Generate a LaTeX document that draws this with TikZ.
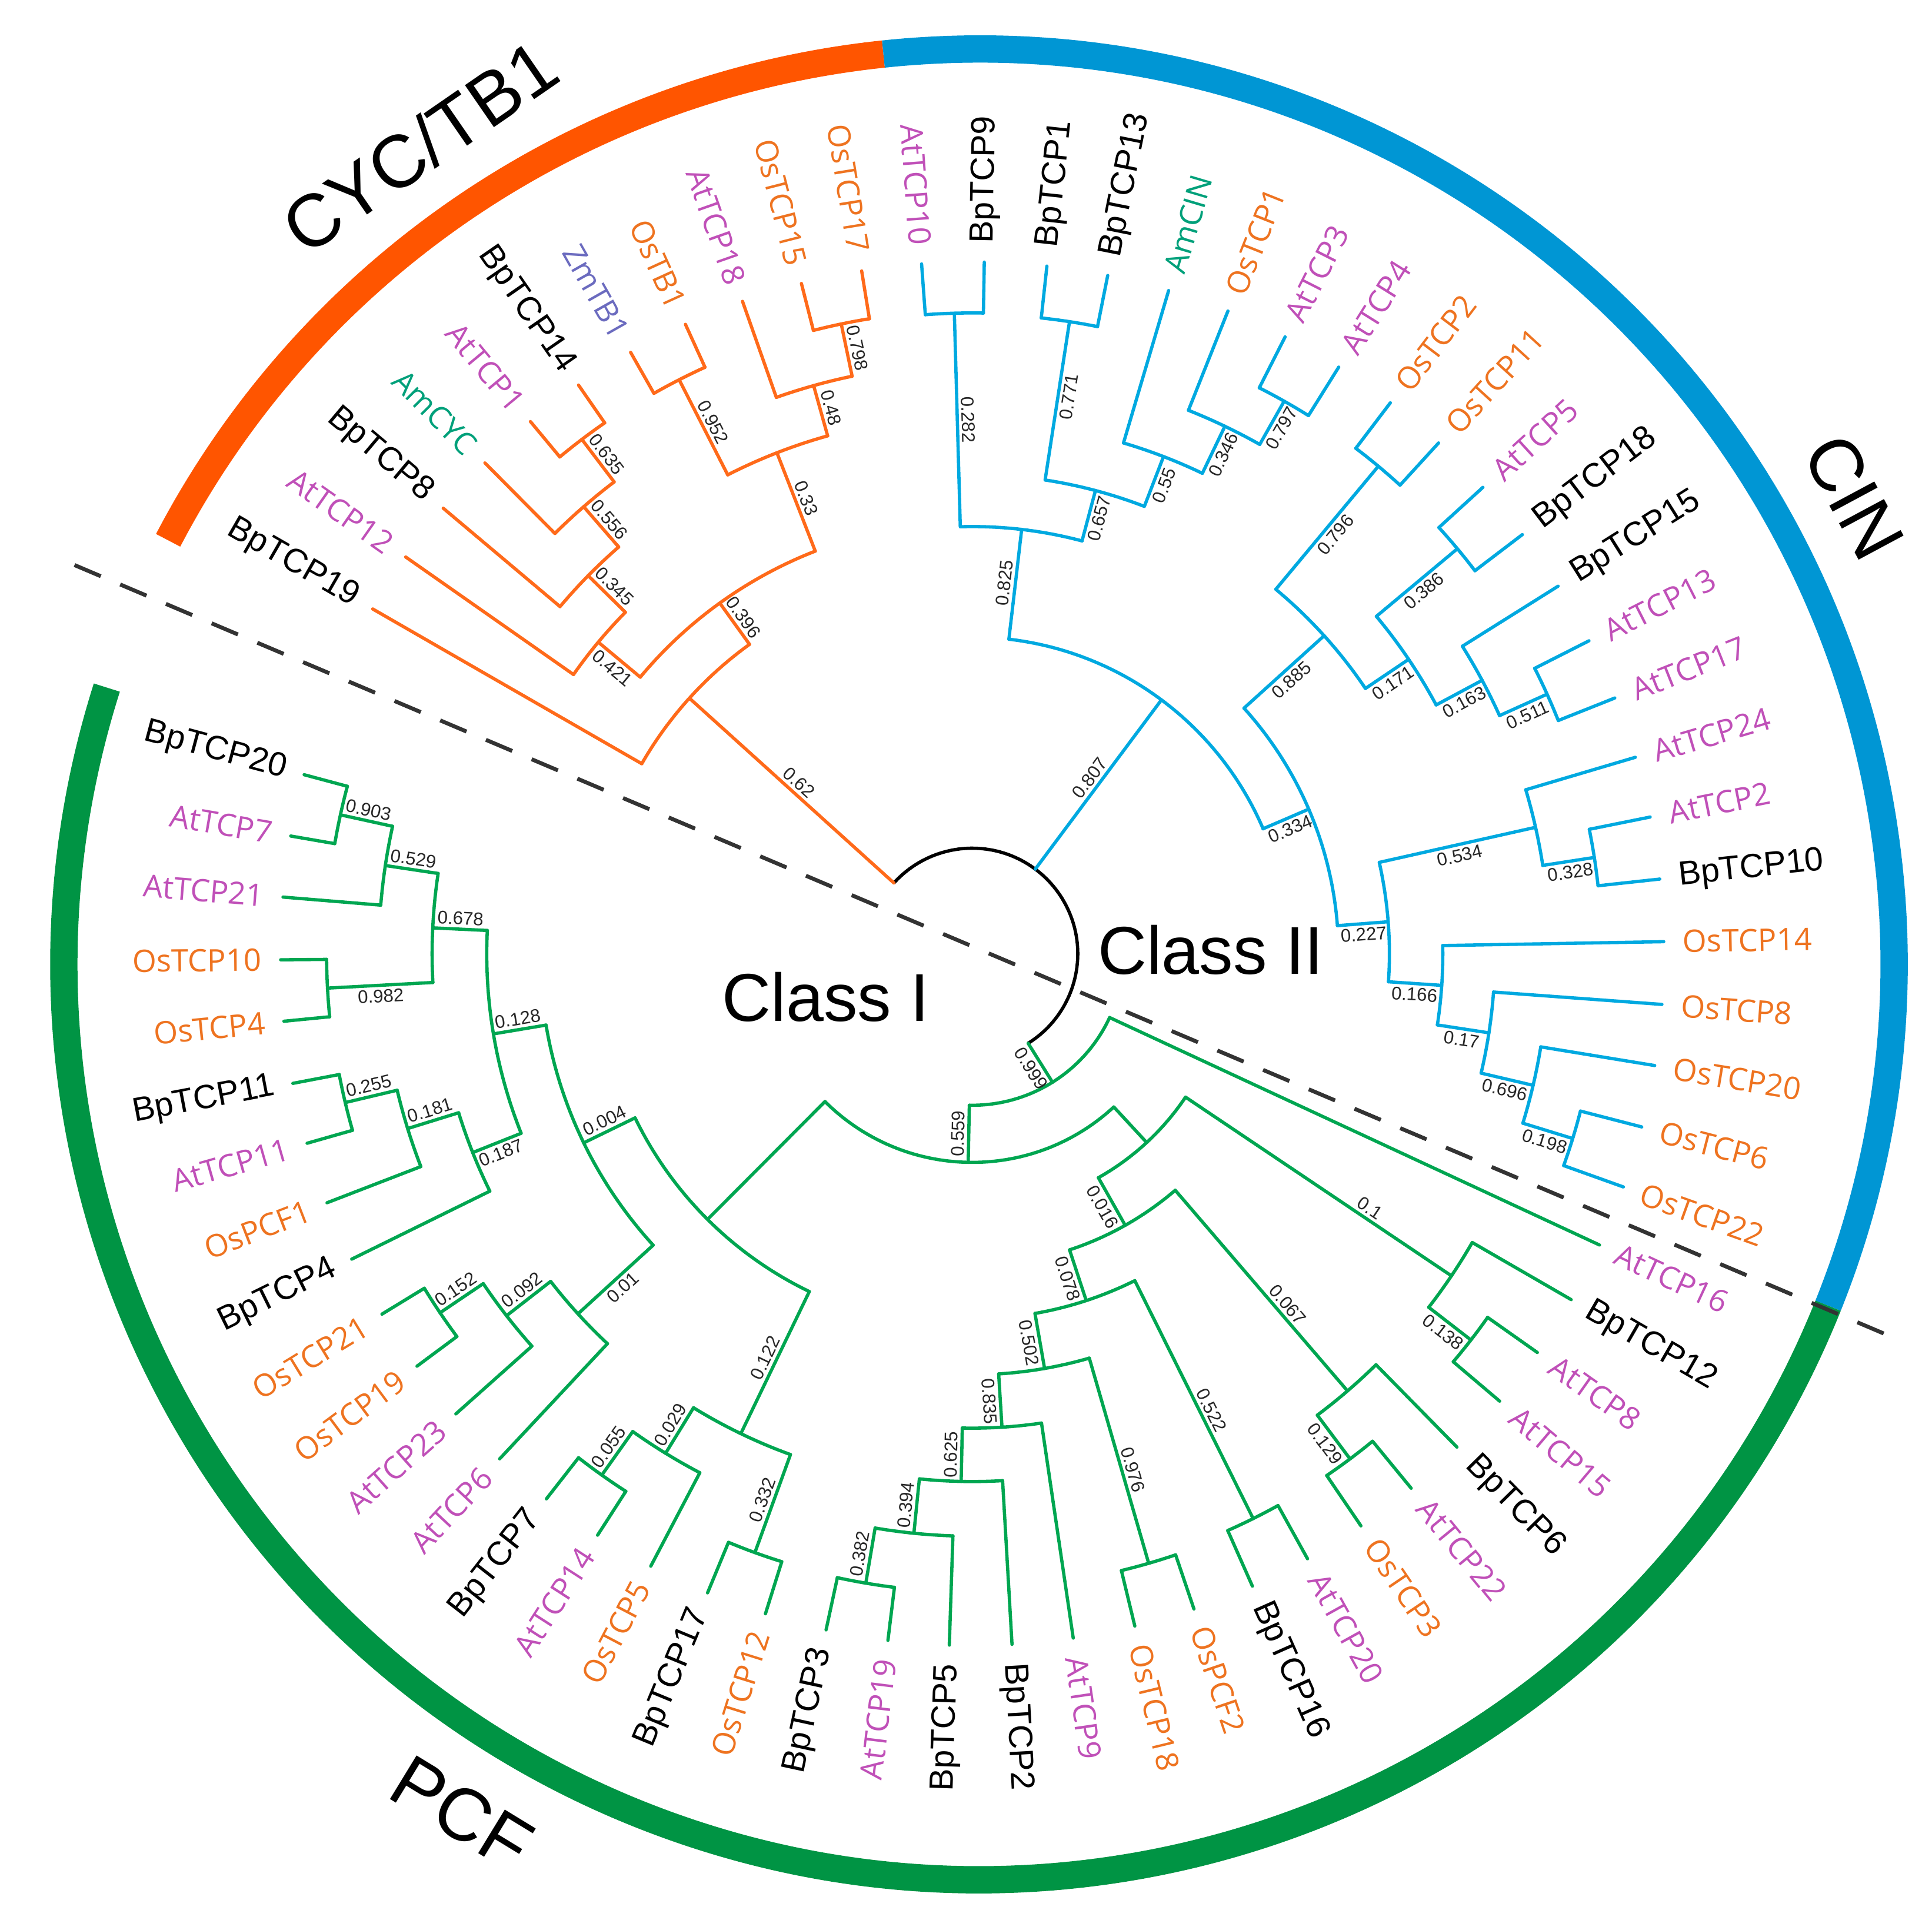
\documentclass[tikz,border=0pt]{standalone}
\usepackage{fontspec}
\setmainfont{Liberation Sans}
\newfontfamily\osf{Open Sans}
\definecolor{lor}{HTML}{FF6A1A}
\definecolor{lbl}{HTML}{00A9E0}
\definecolor{lgr}{HTML}{00A651}
\definecolor{tor}{HTML}{EE7320}
\definecolor{tmg}{HTML}{C050B8}
\definecolor{tgr}{HTML}{00A07A}
\definecolor{tzm}{HTML}{6B6BBF}
\definecolor{rOr}{HTML}{FF5500}
\definecolor{rBl}{HTML}{0096D4}
\definecolor{rGr}{HTML}{009444}
\tikzset{
  Lor/.style={lor,line width=0.75pt,line cap=round},
  Lbl/.style={lbl,line width=0.75pt,line cap=round},
  Lgr/.style={lgr,line width=0.75pt,line cap=round},
  rt/.style={black,line width=0.75pt},
  Kbk/.style={font=\fontsize{7.7}{8}\selectfont,text=black,inner sep=0.5pt},
  Kos/.style={font=\osf\fontsize{7.1}{8}\selectfont,text=tor,inner sep=0.5pt},
  Kat/.style={font=\osf\fontsize{7.1}{8}\selectfont,text=tmg,inner sep=0.5pt},
  Kam/.style={font=\osf\fontsize{7.1}{8}\selectfont,text=tgr,inner sep=0.5pt},
  Kzm/.style={font=\osf\fontsize{7.1}{8}\selectfont,text=tzm,inner sep=0.5pt},
  bsv/.style={font=\fontsize{4.2}{5}\selectfont,text=black!85,inner sep=0.8pt},
  ring/.style={line width=0.22cm},
  big/.style={font=\fontsize{17}{20}\selectfont},
  cls/.style={font=\fontsize{15.5}{18}\selectfont}
}
\newcommand\TIn[6]{%
  \draw[#1] (#3:#2) arc[start angle=#3, end angle=#4, radius=#2];
  \draw[#1] (#5:#6) -- (#5:#2);}
\newcommand\TLeaf[6]{%
  \draw[#1] (#2:#3) -- (#2:5.57);
  \pgfmathsetmacro\lfang{mod(#2+540,360)-180}%
  \pgfmathtruncatemacro\lfleft{(\lfang>90 || \lfang<-90) ? 1 : 0}%
  \ifnum\lfleft=1
    \node[#5,rotate=\lfang+180,anchor=east] (#4) at (\lfang:5.70) {#6};
  \else
    \node[#5,rotate=\lfang,anchor=west] (#4) at (\lfang:5.70) {#6};
  \fi}
\newcommand\TBs[5]{%
  \pgfmathsetmacro\bsang{mod(#2+540,360)-180}%
  \pgfmathtruncatemacro\bsleft{(\bsang>90 || \bsang<-90) ? 1 : 0}%
  \pgfmathtruncatemacro\bsnorth{((1-2*\bsleft)*(#5))>0 ? 1 : 0}%
  \pgfmathsetmacro\bsrot{\bsleft==1 ? \bsang+180 : \bsang}%
  \ifnum\bsnorth=1
    \node[bsv,rotate=\bsrot,anchor=north] (#1) at (\bsang:#3) {#4};
  \else
    \node[bsv,rotate=\bsrot,anchor=south] (#1) at (\bsang:#3) {#4};
  \fi}
\begin{document}
\begin{tikzpicture}
\useasboundingbox (0,0) rectangle (15.56,-15.541);
% outer ring
\begin{scope}[shift={(7.885,-7.765)}]
\draw[ring,rOr] (152.4:7.37) arc[start angle=152.4,end angle=96,radius=7.37];
\draw[ring,rBl] (96:7.37) arc[start angle=96,end angle=-21.9,radius=7.37];
\draw[ring,rGr] (-21.9:7.37) arc[start angle=-21.9,end angle=-197.6,radius=7.37];
\end{scope}
\node[big,rotate=34.6] (cyc) at (3.38,-1.18) {CYC/TB1};
\node[big,rotate=-61.8] (cin) at (14.93,-4.00) {CIN};
\node[big,rotate=-31.4] (pcf) at (3.72,-14.60) {PCF};
% dashed separator
\coordinate (d1) at (0.60,-4.55);
\coordinate (d2) at (15.20,-10.75);
\draw[black!80,line width=0.9pt,dash pattern=on 0.23cm off 0.17cm] (d1) -- (d2);
\node[cls] (c1) at (6.65,-8.03) {Class I};
\node[cls] (c2) at (9.75,-7.65) {Class II};
\begin{scope}[shift={(7.83,-7.68)}]
% root
\draw[rt] (-58:0.85) arc[start angle=-58,end angle=137.9,radius=0.85];
% ---- CYC/TB1
\TIn{Lor}{3.07}{150.1}{125.75}{137.9}{0.85}
\TIn{Lor}{3.48}{140.2}{111.3}{125.75}{3.07}
\TIn{Lor}{3.92}{145.0}{135.45}{140.2}{3.48}
\TIn{Lor}{4.34}{139.9}{131.0}{135.45}{3.92}
\TIn{Lor}{4.77}{134.8}{127.2}{131.0}{4.34}
\TIn{Lor}{5.20}{129.7}{124.7}{127.2}{4.77}
\TIn{Lor}{4.33}{117.05}{105.6}{111.3}{3.48}
\TIn{Lor}{5.19}{119.6}{114.5}{117.05}{4.33}
\TIn{Lor}{4.75}{109.4}{101.75}{105.6}{4.33}
\TIn{Lor}{5.18}{104.3}{99.2}{101.75}{4.75}
\TLeaf{Lor}{150.1}{3.07}{BpTCP19}{Kbk}{BpTCP19}
\TLeaf{Lor}{145.0}{3.92}{AtTCP12}{Kat}{AtTCP12}
\TLeaf{Lor}{139.9}{4.34}{BpTCP8}{Kbk}{BpTCP8}
\TLeaf{Lor}{134.8}{4.77}{AmCYC}{Kam}{AmCYC}
\TLeaf{Lor}{129.7}{5.20}{AtTCP1}{Kat}{AtTCP1}
\TLeaf{Lor}{124.7}{5.20}{BpTCP14}{Kbk}{BpTCP14}
\TLeaf{Lor}{119.6}{5.19}{ZmTB1}{Kzm}{ZmTB1}
\TLeaf{Lor}{114.5}{5.19}{OsTB1}{Kos}{OsTB1}
\TLeaf{Lor}{109.4}{4.75}{AtTCP18}{Kat}{AtTCP18}
\TLeaf{Lor}{104.3}{5.18}{OsTCP15}{Kos}{OsTCP15}
\TLeaf{Lor}{99.2}{5.18}{OsTCP17}{Kos}{OsTCP17}
% ---- CIN
\TIn{Lbl}{2.55}{83.35}{23.25}{53.3}{0.85}
\TIn{Lbl}{3.44}{91.6}{75.1}{83.35}{2.55}
\TIn{Lbl}{5.16}{94.2}{89.0}{91.6}{3.44}
\TIn{Lbl}{3.86}{81.25}{68.95}{75.1}{3.44}
\TIn{Lbl}{5.15}{83.8}{78.7}{81.25}{3.86}
\TIn{Lbl}{4.29}{73.5}{64.4}{68.95}{3.86}
\TIn{Lbl}{4.71}{68.3}{60.55}{64.4}{4.29}
\TIn{Lbl}{5.11}{63.1}{58.0}{60.55}{4.71}
\TIn{Lbl}{2.95}{42.1}{4.4}{23.25}{2.55}
\TIn{Lbl}{3.82}{50.2}{34.0}{42.1}{2.95}
\TIn{Lbl}{5.11}{52.8}{47.6}{50.2}{3.82}
\TIn{Lbl}{4.24}{39.85}{28.2}{34.0}{3.82}
\TIn{Lbl}{5.09}{42.4}{37.3}{39.85}{4.24}
\TIn{Lbl}{4.66}{32.1}{24.3}{28.2}{4.24}
\TIn{Lbl}{5.08}{26.9}{21.7}{24.3}{4.66}
\TIn{Lbl}{3.36}{12.65}{-3.85}{4.4}{2.95}
\TIn{Lbl}{4.65}{16.5}{8.8}{12.65}{3.36}
\TIn{Lbl}{5.07}{11.4}{6.2}{8.8}{4.65}
\TIn{Lbl}{3.79}{1.0}{-8.7}{-3.85}{3.36}
\TIn{Lbl}{4.21}{-4.2}{-13.2}{-8.7}{3.79}
\TIn{Lbl}{4.64}{-9.3}{-17.1}{-13.2}{4.21}
\TIn{Lbl}{5.06}{-14.5}{-19.7}{-17.1}{4.64}
\TLeaf{Lbl}{94.2}{5.16}{AtTCP10}{Kat}{AtTCP10}
\TLeaf{Lbl}{89.0}{5.16}{BpTCP9}{Kbk}{BpTCP9}
\TLeaf{Lbl}{83.8}{5.15}{BpTCP1}{Kbk}{BpTCP1}
\TLeaf{Lbl}{78.7}{5.15}{BpTCP13}{Kbk}{BpTCP13}
\TLeaf{Lbl}{73.5}{4.29}{AmCIN}{Kam}{AmCIN}
\TLeaf{Lbl}{68.3}{4.71}{OsTCP1}{Kos}{OsTCP1}
\TLeaf{Lbl}{63.1}{5.11}{AtTCP3}{Kat}{AtTCP3}
\TLeaf{Lbl}{58.0}{5.11}{AtTCP4}{Kat}{AtTCP4}
\TLeaf{Lbl}{52.8}{5.11}{OsTCP2}{Kos}{OsTCP2}
\TLeaf{Lbl}{47.6}{5.11}{OsTCP11}{Kos}{OsTCP11}
\TLeaf{Lbl}{42.4}{5.09}{AtTCP5}{Kat}{AtTCP5}
\TLeaf{Lbl}{37.3}{5.09}{BpTCP18}{Kbk}{BpTCP18}
\TLeaf{Lbl}{32.1}{4.66}{BpTCP15}{Kbk}{BpTCP15}
\TLeaf{Lbl}{26.9}{5.08}{AtTCP13}{Kat}{AtTCP13}
\TLeaf{Lbl}{21.7}{5.08}{AtTCP17}{Kat}{AtTCP17}
\TLeaf{Lbl}{16.5}{4.65}{AtTCP24}{Kat}{AtTCP24}
\TLeaf{Lbl}{11.4}{5.07}{AtTCP2}{Kat}{AtTCP2}
\TLeaf{Lbl}{6.2}{5.07}{BpTCP10}{Kbk}{BpTCP10}
\TLeaf{Lbl}{1.0}{3.79}{OsTCP14}{Kos}{OsTCP14}
\TLeaf{Lbl}{-4.2}{4.21}{OsTCP8}{Kos}{OsTCP8}
\TLeaf{Lbl}{-9.3}{4.64}{OsTCP20}{Kos}{OsTCP20}
\TLeaf{Lbl}{-14.5}{5.06}{OsTCP6}{Kos}{OsTCP6}
\TLeaf{Lbl}{-19.7}{5.06}{OsTCP22}{Kos}{OsTCP22}
% ---- PCF
\TIn{Lgr}{1.22}{-24.9}{-91.1}{-58.0}{0.85}
\TIn{Lgr}{1.68}{-47.25}{-134.9}{-91.1}{1.22}
\TIn{Lgr}{2.07}{-33.9}{-60.6}{-47.25}{1.68}
\TIn{Lgr}{4.65}{-30.0}{-37.75}{-33.9}{2.07}
\TIn{Lgr}{5.08}{-35.2}{-40.3}{-37.75}{4.65}
\TIn{Lgr}{2.51}{-49.35}{-71.8}{-60.6}{2.07}
\TIn{Lgr}{4.64}{-45.5}{-53.2}{-49.35}{2.51}
\TIn{Lgr}{5.08}{-50.6}{-55.8}{-53.2}{4.64}
\TIn{Lgr}{2.94}{-63.55}{-80.1}{-71.8}{2.51}
\TIn{Lgr}{5.08}{-61.0}{-66.1}{-63.55}{2.94}
\TIn{Lgr}{3.39}{-73.85}{-86.4}{-80.1}{2.94}
\TIn{Lgr}{5.11}{-71.3}{-76.4}{-73.85}{3.39}
\TIn{Lgr}{3.82}{-81.6}{-91.2}{-86.4}{3.39}
\TIn{Lgr}{4.25}{-86.7}{-95.75}{-91.2}{3.82}
\TIn{Lgr}{4.69}{-91.9}{-99.6}{-95.75}{4.25}
\TIn{Lgr}{5.14}{-97.0}{-102.2}{-99.6}{4.69}
\TIn{Lgr}{3.02}{-115.75}{-154.05}{-134.9}{1.68}
\TIn{Lgr}{4.29}{-109.95}{-121.55}{-115.75}{3.02}
\TIn{Lgr}{5.13}{-107.4}{-112.5}{-109.95}{4.29}
\TIn{Lgr}{4.72}{-117.7}{-125.4}{-121.55}{4.29}
\TIn{Lgr}{5.15}{-122.8}{-128.0}{-125.4}{4.72}
\TIn{Lgr}{3.48}{-137.6}{-170.5}{-154.05}{3.02}
\TIn{Lgr}{4.30}{-133.1}{-142.15}{-137.6}{3.48}
\TIn{Lgr}{4.75}{-138.3}{-146.0}{-142.15}{4.30}
\TIn{Lgr}{5.17}{-143.4}{-148.6}{-146.0}{4.75}
\TIn{Lgr}{3.91}{-158.3}{-182.75}{-170.5}{3.48}
\TIn{Lgr}{4.33}{-153.8}{-162.8}{-158.3}{3.91}
\TIn{Lgr}{4.76}{-158.9}{-166.65}{-162.8}{4.33}
\TIn{Lgr}{5.19}{-164.1}{-169.2}{-166.65}{4.76}
\TIn{Lgr}{4.35}{-176.95}{-188.55}{-182.75}{3.91}
\TIn{Lgr}{5.20}{-174.4}{-179.5}{-176.95}{4.35}
\TIn{Lgr}{4.78}{-184.7}{-192.4}{-188.55}{4.35}
\TIn{Lgr}{5.21}{-189.8}{-195.0}{-192.4}{4.78}
\TLeaf{Lgr}{-24.9}{1.22}{AtTCP16}{Kat}{AtTCP16}
\TLeaf{Lgr}{-30.0}{4.65}{BpTCP12}{Kbk}{BpTCP12}
\TLeaf{Lgr}{-35.2}{5.08}{AtTCP8}{Kat}{AtTCP8}
\TLeaf{Lgr}{-40.3}{5.08}{AtTCP15}{Kat}{AtTCP15}
\TLeaf{Lgr}{-45.5}{4.64}{BpTCP6}{Kbk}{BpTCP6}
\TLeaf{Lgr}{-50.6}{5.08}{AtTCP22}{Kat}{AtTCP22}
\TLeaf{Lgr}{-55.8}{5.08}{OsTCP3}{Kos}{OsTCP3}
\TLeaf{Lgr}{-61.0}{5.08}{AtTCP20}{Kat}{AtTCP20}
\TLeaf{Lgr}{-66.1}{5.08}{BpTCP16}{Kbk}{BpTCP16}
\TLeaf{Lgr}{-71.3}{5.11}{OsPCF2}{Kos}{OsPCF2}
\TLeaf{Lgr}{-76.4}{5.11}{OsTCP18}{Kos}{OsTCP18}
\TLeaf{Lgr}{-81.6}{3.82}{AtTCP9}{Kat}{AtTCP9}
\TLeaf{Lgr}{-86.7}{4.25}{BpTCP2}{Kbk}{BpTCP2}
\TLeaf{Lgr}{-91.9}{4.69}{BpTCP5}{Kbk}{BpTCP5}
\TLeaf{Lgr}{-97.0}{5.14}{AtTCP19}{Kat}{AtTCP19}
\TLeaf{Lgr}{-102.2}{5.14}{BpTCP3}{Kbk}{BpTCP3}
\TLeaf{Lgr}{-107.4}{5.13}{OsTCP12}{Kos}{OsTCP12}
\TLeaf{Lgr}{-112.5}{5.13}{BpTCP17}{Kbk}{BpTCP17}
\TLeaf{Lgr}{-117.7}{4.72}{OsTCP5}{Kos}{OsTCP5}
\TLeaf{Lgr}{-122.8}{5.15}{AtTCP14}{Kat}{AtTCP14}
\TLeaf{Lgr}{-128.0}{5.15}{BpTCP7}{Kbk}{BpTCP7}
\TLeaf{Lgr}{-133.1}{4.30}{AtTCP6}{Kat}{AtTCP6}
\TLeaf{Lgr}{-138.3}{4.75}{AtTCP23}{Kat}{AtTCP23}
\TLeaf{Lgr}{-143.4}{5.17}{OsTCP19}{Kos}{OsTCP19}
\TLeaf{Lgr}{-148.6}{5.17}{OsTCP21}{Kos}{OsTCP21}
\TLeaf{Lgr}{-153.8}{4.33}{BpTCP4}{Kbk}{BpTCP4}
\TLeaf{Lgr}{-158.9}{4.76}{OsPCF1}{Kos}{OsPCF1}
\TLeaf{Lgr}{-164.1}{5.19}{AtTCP11}{Kat}{AtTCP11}
\TLeaf{Lgr}{-169.2}{5.19}{BpTCP11}{Kbk}{BpTCP11}
\TLeaf{Lgr}{-174.4}{5.20}{OsTCP4}{Kos}{OsTCP4}
\TLeaf{Lgr}{-179.5}{5.20}{OsTCP10}{Kos}{OsTCP10}
\TLeaf{Lgr}{-184.7}{4.78}{AtTCP21}{Kat}{AtTCP21}
\TLeaf{Lgr}{-189.8}{5.21}{AtTCP7}{Kat}{AtTCP7}
\TLeaf{Lgr}{-195.0}{5.21}{BpTCP20}{Kbk}{BpTCP20}
% ---- support values
\TBs{o1}{137.9}{1.96}{0.62}{1}
\TBs{o2}{125.75}{3.275}{0.396}{1}
\TBs{o3}{140.2}{3.70}{0.421}{-1}
\TBs{o4}{135.45}{4.13}{0.345}{1}
\TBs{o5}{131.0}{4.555}{0.556}{1}
\TBs{o6}{127.2}{4.985}{0.635}{1}
\TBs{o7}{111.3}{3.905}{0.33}{1}
\TBs{o8}{117.05}{4.76}{0.952}{1}
\TBs{o9}{105.6}{4.54}{0.48}{1}
\TBs{o10}{101.75}{4.965}{0.798}{1}
\TBs{b1}{53.3}{1.70}{0.807}{-1}
\TBs{b10}{83.35}{2.995}{0.825}{-1}
\TBs{b11}{91.6}{4.30}{0.282}{1}
\TBs{b12}{75.1}{3.65}{0.657}{1}
\TBs{b13}{81.25}{4.55}{0.771}{1}
\TBs{b14}{68.95}{4.075}{0.55}{1}
\TBs{b15}{64.4}{4.50}{0.346}{1}
\TBs{b16}{60.55}{4.91}{0.797}{1}
\TBs{b2}{23.25}{2.75}{0.334}{1}
\TBs{b4}{42.1}{3.385}{0.885}{1}
\TBs{b6}{50.2}{4.465}{0.796}{1}
\TBs{b5}{34.0}{4.03}{0.171}{1}
\TBs{b7}{39.85}{4.665}{0.386}{1}
\TBs{b8}{28.2}{4.45}{0.163}{1}
\TBs{b9}{24.3}{4.87}{0.511}{1}
\TBs{b3}{4.4}{3.155}{0.227}{1}
\TBs{b17}{12.65}{4.005}{0.534}{1}
\TBs{b19}{8.8}{4.86}{0.328}{1}
\TBs{b18}{-3.85}{3.575}{0.166}{1}
\TBs{b20}{-8.7}{4.00}{0.17}{1}
\TBs{b21}{-13.2}{4.425}{0.696}{1}
\TBs{b22}{-17.1}{4.85}{0.198}{1}
\TBs{g0}{-58}{1.035}{0.999}{1}
\TBs{g1}{-91.1}{1.45}{0.559}{1}
\TBs{g5}{-33.9}{3.80}{0.1}{-1}
\TBs{g6}{-37.75}{4.865}{0.138}{1}
\TBs{g4}{-60.6}{2.29}{0.016}{1}
\TBs{g8}{-49.35}{3.80}{0.067}{-1}
\TBs{g9}{-53.2}{4.86}{0.129}{1}
\TBs{g7}{-71.8}{2.725}{0.078}{1}
\TBs{g11}{-63.55}{4.15}{0.522}{-1}
\TBs{g10}{-80.1}{3.165}{0.502}{1}
\TBs{g13}{-73.85}{4.35}{0.976}{-1}
\TBs{g12}{-86.4}{3.605}{0.835}{1}
\TBs{g14}{-91.2}{4.035}{0.625}{1}
\TBs{g15}{-95.75}{4.47}{0.394}{1}
\TBs{g16}{-99.6}{4.915}{0.382}{1}
\TBs{g30}{-115.75}{3.655}{0.122}{1}
\TBs{g32}{-109.95}{4.71}{0.332}{1}
\TBs{g31}{-121.55}{4.505}{0.029}{1}
\TBs{g33}{-125.4}{4.935}{0.055}{1}
\TBs{g19}{-154.05}{3.25}{0.004}{1}
\TBs{g17}{-137.6}{3.89}{0.01}{-1}
\TBs{g28}{-142.15}{4.525}{0.092}{1}
\TBs{g29}{-146.0}{4.96}{0.152}{1}
\TBs{g20}{-170.5}{3.695}{0.128}{1}
\TBs{g25}{-158.3}{4.12}{0.187}{-1}
\TBs{g26}{-162.8}{4.545}{0.181}{1}
\TBs{g27}{-166.65}{4.975}{0.255}{1}
\TBs{g21}{-182.75}{4.13}{0.678}{1}
\TBs{g23}{-176.95}{4.775}{0.982}{-1}
\TBs{g22}{-188.55}{4.565}{0.529}{1}
\TBs{g24}{-192.4}{4.995}{0.903}{1}
\end{scope}
\end{tikzpicture}
\end{document}
